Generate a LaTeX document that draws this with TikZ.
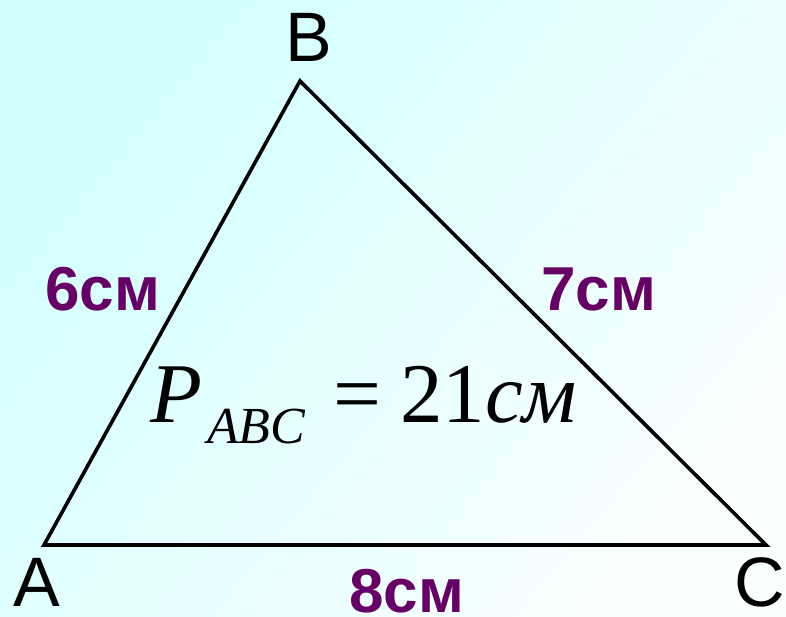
\documentclass[tikz,border=0pt]{standalone}
\usepackage{fontspec}
\setmainfont{Liberation Serif}
\newfontfamily\arialf{Liberation Sans}
\definecolor{lblpurple}{HTML}{660066}
\definecolor{bgL}{HTML}{D2FFFF}
\definecolor{bgR}{HTML}{FAFFFF}
\tikzset{
  vlabel/.style={inner sep=0pt, text depth=0pt, font=\arialf\fontsize{70}{70}\selectfont},
  slabel/.style={inner sep=0pt, text depth=0pt, text=lblpurple, font=\arialf\bfseries\fontsize{62}{62}\selectfont},
  fbig/.style={inner sep=0pt, font=\fontsize{85}{85}\selectfont},
  fsub/.style={inner sep=0pt, font=\itshape\fontsize{52}{52}\selectfont},
  side/.style={line width=3.6pt, line join=miter}
}
\begin{document}
\begin{tikzpicture}[x=1pt,y=-1pt]
\shade[left color=bgL, right color=bgR, shading angle=50] (0,0) rectangle (786,617);
\useasboundingbox (0,0) rectangle (786,617);
\coordinate (A) at (44,545);
\coordinate (B) at (300,81);
\coordinate (C) at (766,545);
\draw[side] (A) -- (B) -- (C) -- cycle;
\node[vlabel, anchor=base] (lB) at (309,62) {B};
\node[vlabel, anchor=base] (lA) at (37,606) {A};
\node[vlabel, anchor=base] (lC) at (760,606) {C};
\node[slabel, anchor=base west] (s6) at (45,310) {6см};
\node[slabel, anchor=base west] (s7) at (541,310) {7см};
\node[slabel, anchor=base west] (s8) at (349,612) {8см};
\node[fbig, anchor=base west] (fP) at (150,422) {\itshape P};
\node[fsub, anchor=base west] (fS) at (207,443) {ABC};
\node[fbig, anchor=base west] (fEq) at (333,422) {=};
\node[fbig, anchor=base west] (f21) at (400,422) {21\itshape см};
\end{tikzpicture}
\end{document}
